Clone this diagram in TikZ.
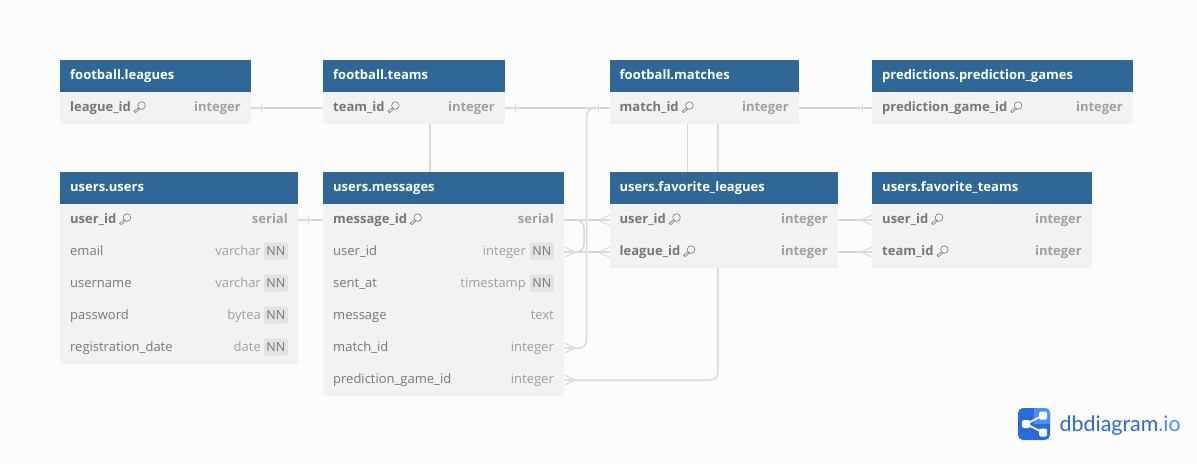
\documentclass[tikz,border=0pt]{standalone}
\usepackage{fontspec}
\setmainfont{Open Sans}
\newfontfamily\logofont{Lato}
\usetikzlibrary{calc}

\definecolor{pagebg}{HTML}{FCFCFC}
\definecolor{headblue}{HTML}{2F6796}
\definecolor{rowgrey}{HTML}{F2F2F2}
\definecolor{linegrey}{HTML}{D9D9D9}
\definecolor{namegrey}{HTML}{777777}
\definecolor{typegrey}{HTML}{A0A0A0}
\definecolor{nngrey}{HTML}{E3E3E3}
\definecolor{logoblue}{HTML}{2B6BD6}
\definecolor{logolight}{HTML}{4A90F5}

\pgfdeclarelayer{pagelayer}
\pgfdeclarelayer{linelayer}
\pgfsetlayers{pagelayer,linelayer,main}

\tikzset{
	tablehead/.style={fill=headblue, draw=none, anchor=north west, minimum height=32pt, inner sep=0pt},
	tablerow/.style={fill=rowgrey, draw=none, anchor=north west, minimum height=32pt, inner sep=0pt},
	headtext/.style={text=white, anchor=base west, inner sep=0pt, font=\fontsize{13}{13}\selectfont\bfseries},
	pkname/.style={text=namegrey, anchor=base west, inner sep=0pt, font=\fontsize{13}{13}\selectfont\bfseries},
	pktype/.style={text=typegrey, anchor=base east, inner sep=0pt, font=\fontsize{13}{13}\selectfont\bfseries},
	colname/.style={text=namegrey, anchor=base west, inner sep=0pt, font=\fontsize{13}{13}\selectfont},
	coltype/.style={text=typegrey, anchor=base east, inner sep=0pt, font=\fontsize{13}{13}\selectfont},
	nnbadge/.style={fill=nngrey, text=namegrey, anchor=east, rounded corners=2pt, inner xsep=2.5pt, inner ysep=0pt, minimum height=17pt, font=\fontsize{12.5}{12.5}\selectfont},
	conn/.style={draw=linegrey, line width=1.5pt, rounded corners=8pt},
	keyicon/.pic={
		\draw[namegrey, line width=0.6pt, line join=round] (10.5,-5.5) circle [radius=3.8];
		\draw[namegrey, line width=0.6pt, line join=round] (7.6,-3.2) -- (3,0.2) -- (4.6,1.6) -- (9,-2);
	},
	crowfoot/.pic={
		\draw[linegrey, line width=1pt] (0,-5) -- (11,0) -- (0,5);
	},
	tickbar/.pic={
		\draw[linegrey, line width=1pt] (0,-4) -- (0,4);
	}
}

\begin{document}
\begin{tikzpicture}[x=1pt,y=-1pt]

	\begin{pgfonlayer}{pagelayer}
	\fill [pagebg] (0,0) rectangle (1197,466);
	\end{pgfonlayer}
	\useasboundingbox (0,0) rectangle (1197,466);

	% football.leagues
	\node [tablehead, minimum width=191pt] (leagueshead) at (60,60) {};
	\node [headtext] (leaguestitle) at (70,79) {football.leagues};
	\node [tablerow, minimum width=191pt] (leagueid) at (60,92) {};
	\node [pkname] (leagueidname) at (70,111) {league\_id};
	\pic at (leagueidname.base east) {keyicon};
	\node [pktype] (leagueidtype) at (241,111) {integer};

	% football.teams
	\node [tablehead, minimum width=182pt] (teamshead) at (323,60) {};
	\node [headtext] (teamstitle) at (333,79) {football.teams};
	\node [tablerow, minimum width=182pt] (teamid) at (323,92) {};
	\node [pkname] (teamidname) at (333,111) {team\_id};
	\pic at (teamidname.base east) {keyicon};
	\node [pktype] (teamidtype) at (495,111) {integer};

	% football.matches
	\node [tablehead, minimum width=189.5pt] (matcheshead) at (609.5,60) {};
	\node [headtext] (matchestitle) at (619.5,79) {football.matches};
	\node [tablerow, minimum width=189.5pt] (matchid) at (609.5,92) {};
	\node [pkname] (matchidname) at (619.5,111) {match\_id};
	\pic at (matchidname.base east) {keyicon};
	\node [pktype] (matchidtype) at (789,111) {integer};

	% predictions.prediction_games
	\node [tablehead, minimum width=261pt] (gameshead) at (872,60) {};
	\node [headtext] (gamestitle) at (882,79) {predictions.prediction\_games};
	\node [tablerow, minimum width=261pt] (gameid) at (872,92) {};
	\node [pkname] (gameidname) at (882,111) {prediction\_game\_id};
	\pic at (gameidname.base east) {keyicon};
	\node [pktype] (gameidtype) at (1123,111) {integer};

	% users.users
	\node [tablehead, minimum width=238pt] (usershead) at (60,172) {};
	\node [headtext] (userstitle) at (70,191) {users.users};
	\node [tablerow, minimum width=238pt] (userid) at (60,204) {};
	\node [pkname] (useridname) at (70,223) {user\_id};
	\pic at (useridname.base east) {keyicon};
	\node [pktype] (useridtype) at (288,223) {serial};
	\node [tablerow, minimum width=238pt] (useremail) at (60,236) {};
	\node [colname] (useremailname) at (70,255) {email};
	\node [nnbadge] (useremailnn) at (288,251) {NN};
	\node [coltype] (useremailtype) at (261,255) {varchar};
	\node [tablerow, minimum width=238pt] (username) at (60,268) {};
	\node [colname] (usernamename) at (70,287) {username};
	\node [nnbadge] (usernamenn) at (288,283) {NN};
	\node [coltype] (usernametype) at (261,287) {varchar};
	\node [tablerow, minimum width=238pt] (userpass) at (60,300) {};
	\node [colname] (userpassname) at (70,319) {password};
	\node [nnbadge] (userpassnn) at (288,315) {NN};
	\node [coltype] (userpasstype) at (261,319) {bytea};
	\node [tablerow, minimum width=238pt] (userdate) at (60,332) {};
	\node [colname] (userdatename) at (70,351) {registration\_date};
	\node [nnbadge] (userdatenn) at (288,347) {NN};
	\node [coltype] (userdatetype) at (261,351) {date};

	% users.messages
	\node [tablehead, minimum width=241pt] (msghead) at (323,172) {};
	\node [headtext] (msgtitle) at (333,191) {users.messages};
	\node [tablerow, minimum width=241pt] (msgid) at (323,204) {};
	\node [pkname] (msgidname) at (333,223) {message\_id};
	\pic at (msgidname.base east) {keyicon};
	\node [pktype] (msgidtype) at (554,223) {serial};
	\node [tablerow, minimum width=241pt] (msguser) at (323,236) {};
	\node [colname] (msgusername) at (333,255) {user\_id};
	\node [nnbadge] (msgusernn) at (554,251) {NN};
	\node [coltype] (msgusertype) at (526,255) {integer};
	\node [tablerow, minimum width=241pt] (msgsent) at (323,268) {};
	\node [colname] (msgsentname) at (333,287) {sent\_at};
	\node [nnbadge] (msgsentnn) at (554,283) {NN};
	\node [coltype] (msgsenttype) at (526,287) {timestamp};
	\node [tablerow, minimum width=241pt] (msgtext) at (323,300) {};
	\node [colname] (msgtextname) at (333,319) {message};
	\node [coltype] (msgtexttype) at (554,319) {text};
	\node [tablerow, minimum width=241pt] (msgmatch) at (323,332) {};
	\node [colname] (msgmatchname) at (333,351) {match\_id};
	\node [coltype] (msgmatchtype) at (554,351) {integer};
	\node [tablerow, minimum width=241pt] (msggame) at (323,364) {};
	\node [colname] (msggamename) at (333,383) {prediction\_game\_id};
	\node [coltype] (msggametype) at (554,383) {integer};

	% users.favorite_leagues
	\node [tablehead, minimum width=228.5pt] (favlhead) at (609.5,172) {};
	\node [headtext] (favltitle) at (619.5,191) {users.favorite\_leagues};
	\node [tablerow, minimum width=228.5pt] (favluser) at (609.5,204) {};
	\node [pkname] (favlusername) at (619.5,223) {user\_id};
	\pic at (favlusername.base east) {keyicon};
	\node [pktype] (favlusertype) at (828,223) {integer};
	\node [tablerow, minimum width=228.5pt] (favlleague) at (609.5,236) {};
	\node [pkname] (favlleaguename) at (619.5,255) {league\_id};
	\pic at (favlleaguename.base east) {keyicon};
	\node [pktype] (favlleaguetype) at (828,255) {integer};

	% users.favorite_teams
	\node [tablehead, minimum width=220pt] (favthead) at (872,172) {};
	\node [headtext] (favttitle) at (882,191) {users.favorite\_teams};
	\node [tablerow, minimum width=220pt] (favtuser) at (872,204) {};
	\node [pkname] (favtusername) at (882,223) {user\_id};
	\pic at (favtusername.base east) {keyicon};
	\node [pktype] (favtusertype) at (1082,223) {integer};
	\node [tablerow, minimum width=220pt] (favtteam) at (872,236) {};
	\node [pkname] (favtteamname) at (882,255) {team\_id};
	\pic at (favtteamname.base east) {keyicon};
	\node [pktype] (favtteamtype) at (1082,255) {integer};

	% connectors
	\coordinate (matchbend) at (586.5,108);
	\coordinate (loopbend) at (584,220);
	\begin{pgfonlayer}{linelayer}
	\draw [conn] (leagueid.east) -- (teamid.west);
	\draw [conn] (teamid.east) -- (matchid.west);
	\draw [conn] (matchid.east) -- (gameid.west);
	\draw [conn] (userid.east) -- (msgid.west);
	\draw [conn] (msgid.east) -- (favluser.west);
	\draw [conn] (msguser.east) -- (favlleague.west);
	\draw [conn] (favluser.east) -- (favtuser.west);
	\draw [conn] (favlleague.east) -- (favtteam.west);
	\draw [conn] ([xshift=16pt]teamid.south) -- ([xshift=16pt]teamid.south |- msghead.north);
	\draw [conn, line width=1pt] ([xshift=-16.5pt]matchid.south) -- ([xshift=-16.5pt]matchid.south |- favlhead.north);
	\draw [conn] ([xshift=13.5pt]matchid.south) |- (msggame.east);
	\draw [conn] (matchid.west) -- (matchbend) |- (msgmatch.east);
	\draw [conn] (msgid.east) -- (loopbend) |- (msguser.east);

	% tick marks
	\pic at ($(leagueid.east)+(10,0)$) {tickbar};
	\pic at ($(userid.east)+(10,0)$) {tickbar};
	\pic at ($(teamid.east)+(10,0)$) {tickbar};
	\pic at ($(matchid.west)+(-11,0)$) {tickbar};
	\pic at ($(gameid.west)+(-10,0)$) {tickbar};

	% crow feet
	\pic at (msguser.east) {crowfoot};
	\pic at (msgmatch.east) {crowfoot};
	\pic at (msggame.east) {crowfoot};
	\pic [xscale=-1] at (favluser.west) {crowfoot};
	\pic [xscale=-1] at (favlleague.west) {crowfoot};
	\pic [xscale=-1] at (favtuser.west) {crowfoot};
	\pic [xscale=-1] at (favtteam.west) {crowfoot};
	\end{pgfonlayer}

	% logo
	\fill [logoblue, rounded corners=5pt] (1018,408) rectangle (1050,440);
	\fill [logolight] (1034,408) -- (1045,408) .. controls (1048,408) and (1050,410) .. (1050,413) -- (1050,424) -- (1034,424) -- cycle;
	\draw [white, line width=1.6pt] (1043,415.5) -- (1026,424) -- (1043,432.5);
	\fill [white, rounded corners=1.5pt] (1022,420) rectangle (1030,428);
	\fill [white, rounded corners=1.5pt] (1039,411.5) rectangle (1047,419.5);
	\fill [white, rounded corners=1.5pt] (1039,428.5) rectangle (1047,436.5);
	\node [anchor=base west, inner sep=0pt, font=\logofont\fontsize{21.4}{21.4}\selectfont] (logotext) at (1059.5,431) {\textcolor{logoblue}{dbdiagram}\textcolor{logolight}{.io}};

\end{tikzpicture}
\end{document}
